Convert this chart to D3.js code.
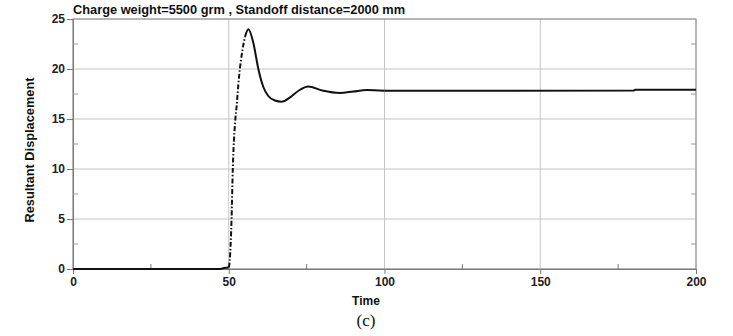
<!DOCTYPE html>
<html>
<head>
<meta charset="utf-8">
<script src="https://cdn.jsdelivr.net/npm/d3@7"></script>
<style>
  body { margin: 0; background: #fff; }
  text { font-family: Arial, "Liberation Sans", sans-serif; }
</style>
</head>
<body>
<script>

var Width = 733;
var Height = 336;
var Left = 73, Right = 696, Top = 19, Bottom = 269;

// data
var times = [0, 47.3, 48.5, 50.0, 50.3, 50.9, 51.3, 52.0, 52.5, 53.3, 54.4, 55.2, 56.3, 57.9, 59.5, 61.1, 62.7, 64.8, 67.0, 69.7, 72.5, 75.5, 80.0, 85.7, 90.0, 94.3, 100, 112, 180, 180.5, 200];
var displacement = [0, 0, 0.1, 0.15, 0.8, 5, 10, 14.5, 16.2, 19.2, 21.9, 23.2, 23.97, 22.6, 20, 18.2, 17.3, 16.85, 16.73, 17.17, 17.85, 18.25, 17.85, 17.6, 17.75, 17.9, 17.82, 17.82, 17.84, 17.92, 17.92];
var xTicks = [0, 50, 100, 150, 200];
var xMinor = [25, 75, 125, 175];
var yTicks = [0, 5, 10, 15, 20, 25];
var yMinor = [2.5, 7.5, 12.5, 17.5, 22.5];
var title = "Charge weight=5500 grm , Standoff distance=2000 mm";
var riseStart = 50.0, riseEnd = 55.2;   // part of the curve drawn dash-dot
var smoothEnd = 100;                     // after this the curve is drawn straight

function main () {
  var svg = d3.select("body").append("svg")
    .attr("width", Width)
    .attr("height", Height);

  var xScale = d3.scaleLinear().domain([0, 200]).range([Left, Right]);
  var yScale = d3.scaleLinear().domain([0, 25]).range([Bottom, Top]);

  var data = times.map(function(t, i) { return {t: t, v: displacement[i]}; });

  // grid
  svg.append("g").selectAll("line.h")
    .data(yTicks).enter().append("line")
    .attr("x1", Left).attr("x2", Right)
    .attr("y1", function(d) { return yScale(d); })
    .attr("y2", function(d) { return yScale(d); })
    .attr("stroke", "#c4c4c4").attr("stroke-width", 1);
  svg.append("g").selectAll("line.v")
    .data(xTicks).enter().append("line")
    .attr("y1", Top).attr("y2", Bottom)
    .attr("x1", function(d) { return xScale(d); })
    .attr("x2", function(d) { return xScale(d); })
    .attr("stroke", "#c4c4c4").attr("stroke-width", 1);

  // frame
  svg.append("rect")
    .attr("x", Left).attr("y", Top)
    .attr("width", Right - Left).attr("height", Bottom - Top)
    .attr("fill", "none").attr("stroke", "#8a8a8a").attr("stroke-width", 1);

  // axes
  var xAxis = d3.axisBottom(xScale).tickValues(xTicks).tickSize(5).tickPadding(3);
  var gx = svg.append("g")
    .attr("transform", "translate(0," + Bottom + ")")
    .call(xAxis);
  var yAxis = d3.axisLeft(yScale).tickValues(yTicks).tickSize(6).tickPadding(2);
  var gy = svg.append("g")
    .attr("transform", "translate(" + Left + ",0)")
    .call(yAxis);
  [gx, gy].forEach(function(g) {
    g.select(".domain").attr("stroke", "#7a7a7a");
    g.selectAll(".tick line").attr("stroke", "#7a7a7a");
    g.selectAll(".tick text")
      .attr("fill", "#222")
      .style("font-size", "12px")
      .style("font-weight", "bold")
      .style("font-family", "Arial, 'Liberation Sans', sans-serif");
  });

  // minor ticks
  svg.append("g").selectAll("line")
    .data(xMinor).enter().append("line")
    .attr("x1", function(d) { return xScale(d); })
    .attr("x2", function(d) { return xScale(d); })
    .attr("y1", Bottom).attr("y2", Bottom - 5)
    .attr("stroke", "#7a7a7a");
  svg.append("g").selectAll("line")
    .data(yMinor).enter().append("line")
    .attr("x1", Left).attr("x2", Left + 5)
    .attr("y1", function(d) { return yScale(d); })
    .attr("y2", function(d) { return yScale(d); })
    .attr("stroke", "#9a9a9a");
  svg.append("g").selectAll("line")
    .data(yMinor).enter().append("line")
    .attr("x1", Right).attr("x2", Right - 5)
    .attr("y1", function(d) { return yScale(d); })
    .attr("y2", function(d) { return yScale(d); })
    .attr("stroke", "#9a9a9a");

  // curve
  var smooth = d3.line()
    .x(function(d) { return xScale(d.t); })
    .y(function(d) { return yScale(d.v); })
    .curve(d3.curveMonotoneX);
  var straight = d3.line()
    .x(function(d) { return xScale(d.t); })
    .y(function(d) { return yScale(d.v); });

  var before = data.filter(function(d) { return d.t <= riseStart; });
  var rise = data.filter(function(d) { return d.t >= riseStart && d.t <= riseEnd; });
  var after = data.filter(function(d) { return d.t >= riseEnd && d.t <= smoothEnd; });
  var tail = data.filter(function(d) { return d.t >= smoothEnd; });

  svg.append("path").datum(before).attr("d", straight)
    .attr("fill", "none").attr("stroke", "#111").attr("stroke-width", 2);
  svg.append("path").datum(rise).attr("d", smooth)
    .attr("fill", "none").attr("stroke", "#111").attr("stroke-width", 2)
    .attr("stroke-dasharray", "5,2,1.5,2");
  svg.append("path").datum(after).attr("d", smooth)
    .attr("fill", "none").attr("stroke", "#111").attr("stroke-width", 2);
  svg.append("path").datum(tail).attr("d", straight)
    .attr("fill", "none").attr("stroke", "#111").attr("stroke-width", 2);

  // labels
  svg.append("text")
    .attr("x", Left).attr("y", 14)
    .style("font-size", "12.8px").style("font-weight", "bold")
    .attr("fill", "#111")
    .text(title);
  svg.append("text")
    .attr("x", 366).attr("y", 305)
    .attr("text-anchor", "middle")
    .style("font-size", "12px").style("font-weight", "bold")
    .attr("fill", "#111")
    .text("Time");
  svg.append("text")
    .attr("transform", "translate(34," + 150 + ") rotate(-90)")
    .attr("text-anchor", "middle")
    .style("font-size", "12.8px").style("font-weight", "bold")
    .attr("fill", "#111")
    .text("Resultant Displacement");
  svg.append("text")
    .attr("x", 366).attr("y", 326)
    .attr("text-anchor", "middle")
    .style("font-family", "'Liberation Serif', 'DejaVu Serif', serif")
    .style("font-size", "17px")
    .attr("fill", "#111")
    .text("(c)");
}

main();
</script>
</body>
</html>
